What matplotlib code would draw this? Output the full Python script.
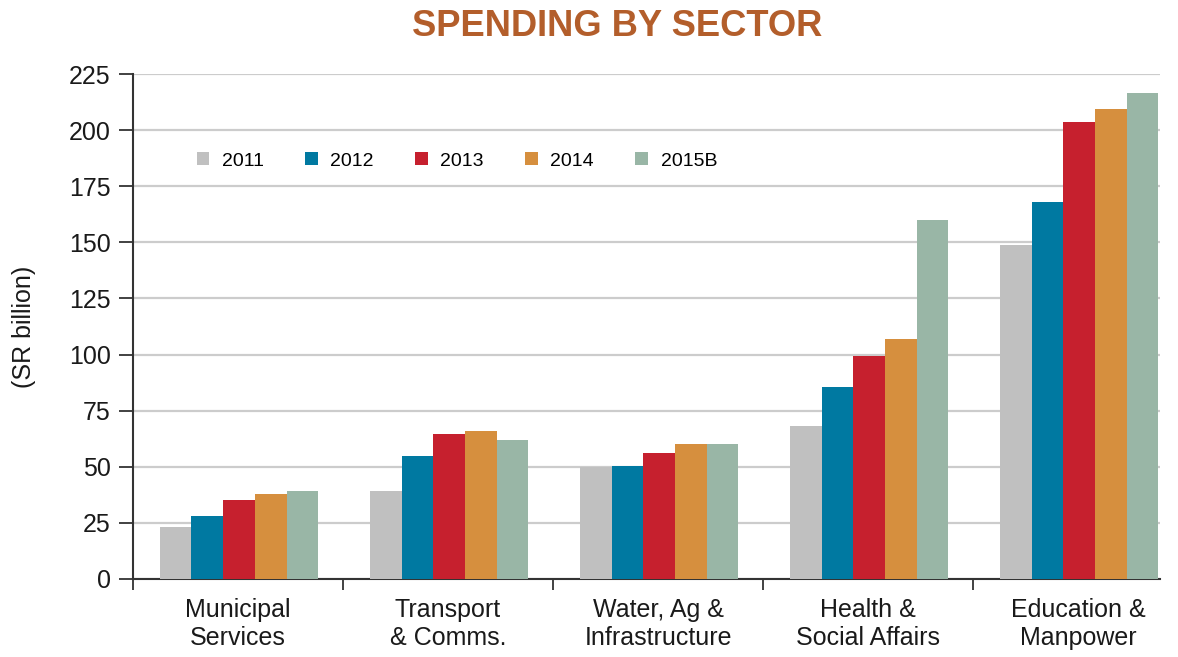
import numpy as np
import matplotlib
matplotlib.use("Agg")
import matplotlib.pyplot as plt
from matplotlib.patches import Patch

plt.rcParams["font.family"] = ["Liberation Sans", "DejaVu Sans"]

# Data
sectors = ["Municipal\nServices", "Transport\n& Comms.", "Water, Ag &\nInfrastructure",
           "Health &\nSocial Affairs", "Education &\nManpower"]
years = ["2011", "2012", "2013", "2014", "2015B"]
v2011 = [23, 39, 50, 68, 149]
v2012 = [28, 55, 50.5, 85.5, 168]
v2013 = [35, 64.5, 56, 99.5, 203.5]
v2014 = [38, 66, 60, 107, 209.5]
v2015 = [39, 62, 60, 160, 216.5]
series = [v2011, v2012, v2013, v2014, v2015]
colors = ["#c0c0c0", "#0079a1", "#c6202e", "#d68f3e", "#99b6a6"]

fig = plt.figure(figsize=(11.78, 6.57), dpi=100)
ax = fig.add_axes([133 / 1178, 1 - 579 / 657, (1160 - 133) / 1178, (579 - 74) / 657])

x = np.arange(len(sectors))
w = 0.151
for i, (vals, c) in enumerate(zip(series, colors)):
    ax.bar(x + (i - 2) * w + 0.005, vals, width=w, color=c, linewidth=0, zorder=3)

ax.set_xlim(-0.5, 4.39)
ax.set_ylim(0, 225)
ax.set_yticks(np.arange(0, 226, 25))
ax.yaxis.grid(True, color="#cccccc", linewidth=1.6, zorder=0)
ax.set_axisbelow(True)

# group separators as major ticks, labels as minor ticks
ax.set_xticks(np.arange(-0.5, 4.0, 1.0))
ax.set_xticklabels([])
ax.set_xticks(x, minor=True)
ax.set_xticklabels(sectors, minor=True, fontsize=18, color="#1a1a1a", linespacing=1.2)
ax.tick_params(axis="x", which="major", direction="out", length=8, width=1.3, color="#333333")
ax.tick_params(axis="x", which="minor", length=0, pad=14)
ax.tick_params(axis="y", direction="out", length=10, width=1.3, color="#333333",
               labelsize=18, labelcolor="#1a1a1a", pad=6)

for s in ["top", "right"]:
    ax.spines[s].set_visible(False)
for s in ["left", "bottom"]:
    ax.spines[s].set_color("#333333")
    ax.spines[s].set_linewidth(1.5)

ax.set_ylabel("(SR billion)", fontsize=18, color="#1a1a1a")
ax.yaxis.set_label_coords(-0.094, 0.5)

handles = [Patch(facecolor=c, edgecolor="none") for c in colors]
ax.legend(handles, years, ncol=5, loc="center left", bbox_to_anchor=(0.062, 0.828),
          frameon=False, fontsize=14, handlelength=0.65, handleheight=0.65,
          handletextpad=0.65, columnspacing=2.12, borderaxespad=0, borderpad=0)

fig.text(617 / 1178, 1 - 27 / 657, "SPENDING BY SECTOR", fontsize=26.2, fontweight="bold",
         color="#b35e2b", ha="center", va="center")

fig.savefig("out.png", dpi=100, facecolor="white")
